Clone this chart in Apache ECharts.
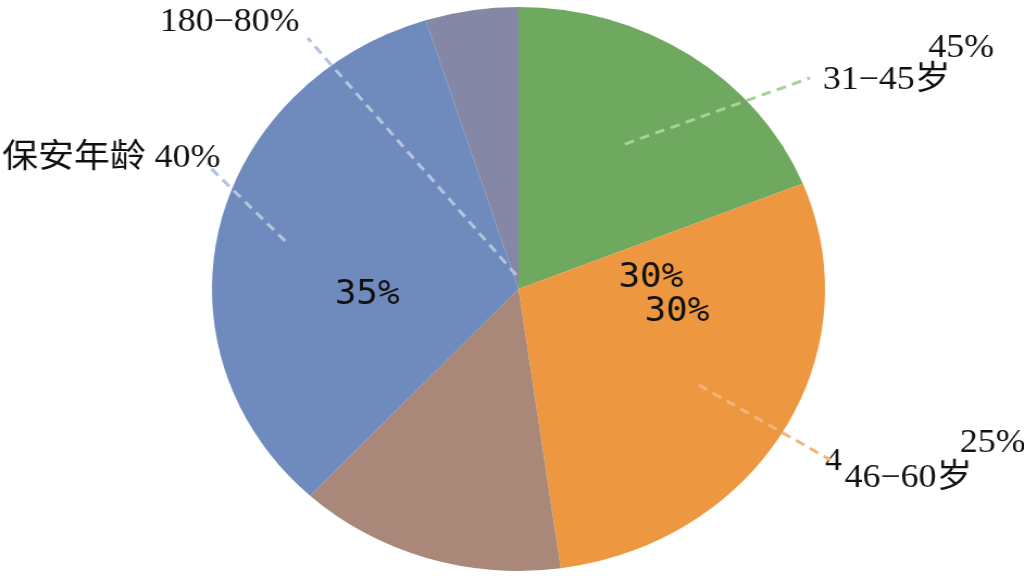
<!DOCTYPE html>
<html>
<head>
<meta charset="utf-8">
<script src="https://cdn.jsdelivr.net/npm/echarts@6/dist/echarts.min.js"></script>
<style>
html, body { margin: 0; padding: 0; background: #fff; overflow: hidden; }
/* the reference pie is slightly wider than tall, so the whole chart is stretched */
#chart { width: 942px; height: 576px; transform: scaleX(1.087); transform-origin: 0 0; }
</style>
</head>
<body>
<div id="chart"></div>
<script>
// slices, clockwise from 12 o'clock
var ageNames = ['31−45岁', '46−60岁', '', '保安年龄 40%', '180−80%'];
var ageValues = [18.9, 28.9, 14.1, 33.2, 4.9];
var outerPct = ['45%', '25%', '', '', ''];
var innerPct = ['30%', '30%', '', '35%', ''];

var sliceColors = ['#6ea95f', '#ee9741', '#a9887a', '#6f8bbd', '#8488a6'];
var lineColors = ['#a6d292', '#f4b57c', '#c0a090', '#b4c3e0', '#b4c3e0'];

// label anchors (left, middle) in chart pixels
var nameLabelAt = [[757, 80], [777, 478], null, [2, 158], [147, 22]];
var outerLabelAt = [[854, 48], [883, 443], null, null, null];
var innerLabelAt = [[569, 278], [593, 312], null, [308, 295], null];
// where the guide line starts, as a share of the radius, and where it ends
var guideStart = [0.62, 0.68, 0, 0.78, 0.05];
var guideEnd = [[745, 78], [764, 460], null, [190, 164], [283, 38]];

var serifFont = "'Liberation Serif', 'Noto Sans CJK SC', serif";
var monoFont = "'DejaVu Sans Mono', monospace";
var pieCenter = [477, 289];
var pieRadius = 282;

function placeAt(list) {
    return function (params) {
        var p = list[params.dataIndex];
        if (!p) return {};
        return { x: p[0], y: p[1], align: 'left', verticalAlign: 'middle' };
    };
}

function placeNames(params) {
    var i = params.dataIndex;
    var p = nameLabelAt[i];
    if (!p) return {};
    var out = { x: p[0], y: p[1], align: 'left', verticalAlign: 'middle' };
    var pts = params.labelLinePoints;
    if (pts && guideEnd[i]) {
        var edge = pts[0];
        var k = guideStart[i];
        var s = [pieCenter[0] + (edge[0] - pieCenter[0]) * k, pieCenter[1] + (edge[1] - pieCenter[1]) * k];
        var e = guideEnd[i];
        out.labelLinePoints = [s, [(s[0] + e[0]) / 2, (s[1] + e[1]) / 2], e];
    }
    return out;
}

// transparent copy of the pie, only used to carry a set of labels
function ghostSeries(texts, extra) {
    var s = {
        type: 'pie',
        z: 5,
        center: pieCenter,
        radius: pieRadius,
        startAngle: 90,
        clockwise: true,
        silent: true,
        avoidLabelOverlap: false,
        itemStyle: { color: 'rgba(0,0,0,0)' },
        data: ageValues.map(function (v, i) {
            return {
                value: v,
                name: ageNames[i] || 'slice' + i,
                label: { show: !!texts[i], formatter: texts[i] },
                labelLine: { show: false }
            };
        })
    };
    return Object.assign(s, extra);
}

var chart = echarts.init(document.getElementById('chart'), null, { renderer: 'canvas' });

var nameSeries = ghostSeries(ageNames, {
    label: { position: 'outside', fontFamily: serifFont, fontSize: 33, color: '#111' },
    labelLine: { length: 14, length2: 14, lineStyle: { width: 3, type: [9, 6] } },
    labelLayout: placeNames
});
nameSeries.data.forEach(function (d, i) {
    d.labelLine = { show: !!ageNames[i], lineStyle: { color: lineColors[i] } };
});

var option = {
    backgroundColor: '#ffffff',
    animation: false,
    series: [
        {
            type: 'pie',
            z: 1,
            center: pieCenter,
            radius: pieRadius,
            startAngle: 90,
            clockwise: true,
            silent: true,
            label: { show: false },
            labelLine: { show: false },
            data: ageValues.map(function (v, i) {
                return { value: v, name: ageNames[i] || 'slice' + i, itemStyle: { color: sliceColors[i] } };
            })
        },
        nameSeries,
        ghostSeries(outerPct, {
            label: { position: 'outside', fontFamily: serifFont, fontSize: 33, color: '#111' },
            labelLayout: placeAt(outerLabelAt)
        }),
        ghostSeries(innerPct, {
            label: { position: 'inside', fontFamily: monoFont, fontSize: 33, color: '#111' },
            labelLayout: placeAt(innerLabelAt)
        })
    ],
    graphic: [
        {
            type: 'text',
            left: 759,
            top: 446,
            style: { text: '4', font: '31px ' + serifFont, fill: '#111' }
        }
    ]
};

chart.setOption(option);
</script>
</body>
</html>
